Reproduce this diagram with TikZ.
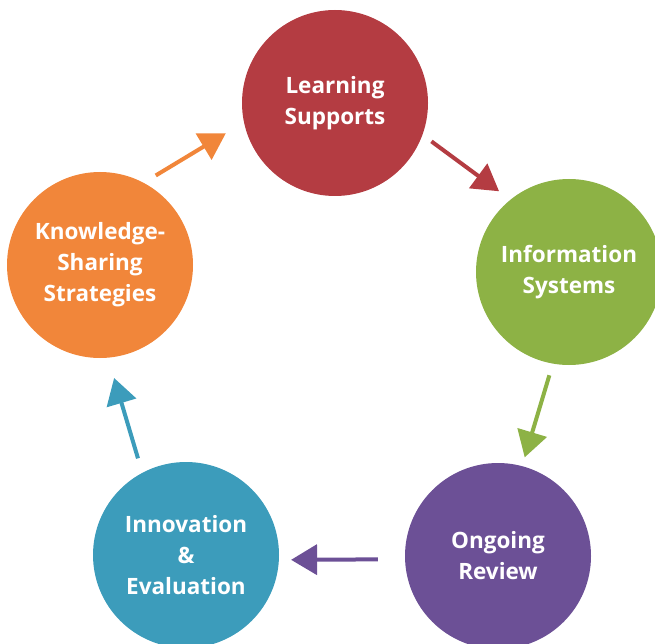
\documentclass[tikz,border=0pt]{standalone}
\usepackage{fontspec}
\setmainfont{Open Sans}
\usetikzlibrary{arrows.meta}
\definecolor{lsred}{RGB}{180,60,66}
\definecolor{isgreen}{RGB}{141,178,69}
\definecolor{orpurple}{RGB}{108,80,150}
\definecolor{ieteal}{RGB}{60,156,187}
\definecolor{ksorange}{RGB}{241,134,58}
\tikzstyle{bubble}=[circle,minimum size=186pt,inner sep=0pt,text=white,align=center,font=\bfseries\fontsize{22.5}{31}\selectfont]
\tikzstyle{step arrow}=[line width=4pt,-{Triangle[length=26pt,width=30pt]}]

\begin{document}
\begin{tikzpicture}[x=1pt,y=1pt]
\useasboundingbox (0, 0) rectangle (655, -644);
\node[bubble, fill=lsred] at (335, -103) (ls) {Learning\\Supports};
\node[bubble, fill=isgreen] at (569, -272) (is) {Information\\Systems};
\node[bubble, fill=orpurple] at (498, -556) (or) {Ongoing\\Review};
\node[bubble, fill=ieteal] at (186, -555) (ie) {Innovation\\\&\\Evaluation};
\node[bubble, fill=ksorange] at (100, -265) (ks) {Knowledge-\\Sharing\\Strategies};
\draw[step arrow, lsred, shorten <=11pt, shorten >=14pt] (ls.-20) -- (is.129);
\draw[step arrow, isgreen, shorten <=12pt, shorten >=9pt] (is.260) -- (or.75);
\draw[step arrow, orpurple, shorten <=27pt, shorten >=12pt] (or.182) -- (ie.-3);
\draw[step arrow, ieteal, shorten <=15pt, shorten >=21pt] (ie.118) -- (ks.-85);
\draw[step arrow, ksorange, shorten <=14pt, shorten >=21pt] (ks.62) -- (ls.192);
\end{tikzpicture}
\end{document}
